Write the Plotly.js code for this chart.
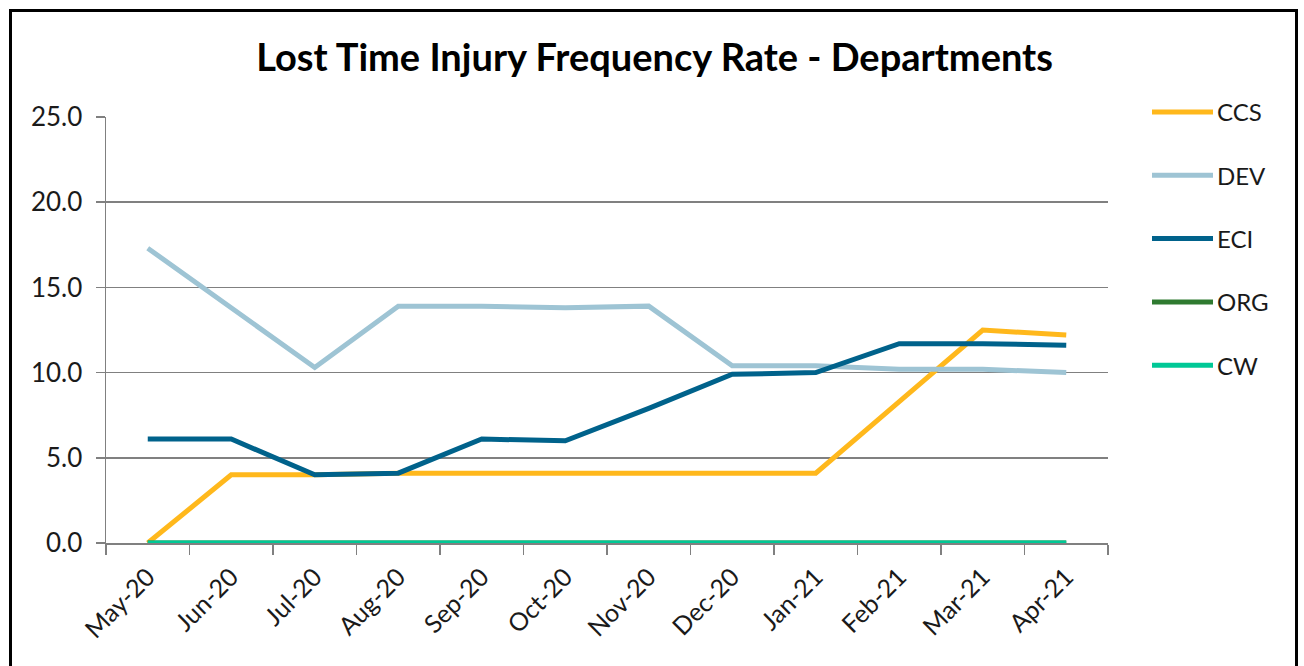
<!DOCTYPE html>
<html>
<head>
<meta charset="utf-8">
<script src="https://cdn.plot.ly/plotly-3.0.1.min.js"></script>
<style>
  body { margin: 0; background: #fff; }
  #chart { width: 1304px; height: 666px; }
  #frame {
    position: absolute; left: 9px; top: 9px; width: 1289px; height: 720px;
    border: 3px solid #000; box-sizing: border-box; pointer-events: none;
  }
</style>
</head>
<body>
<div id="chart"></div>
<div id="frame"></div>
<script>
// Lost Time Injury Frequency Rate by department, May-20 .. Apr-21
var months = ["May-20", "Jun-20", "Jul-20", "Aug-20", "Sep-20", "Oct-20",
              "Nov-20", "Dec-20", "Jan-21", "Feb-21", "Mar-21", "Apr-21"];

var ccs = [0.0, 4.0, 4.0, 4.1, 4.1, 4.1, 4.1, 4.1, 4.1, 8.3, 12.5, 12.2];
var dev = [17.3, 13.8, 10.3, 13.9, 13.9, 13.8, 13.9, 10.4, 10.4, 10.2, 10.2, 10.0];
var eci = [6.1, 6.1, 4.0, 4.1, 6.1, 6.0, 7.9, 9.9, 10.0, 11.7, 11.7, 11.6];
var org = [0, 0, 0, 0, 0, 0, 0, 0, 0, 0, 0, 0];
var cw  = [0, 0, 0, 0, 0, 0, 0, 0, 0, 0, 0, 0];

var names  = ["CCS", "DEV", "ECI", "ORG", "CW"];
var colors = ["#FFB81C", "#9EC4D4", "#00628B", "#2F7A30", "#00C896"];
var series = [ccs, dev, eci, org, cw];

var data = [];
for (var i = 0; i < series.length; i++) {
  data.push({
    x: months,
    y: series[i],
    name: names[i],
    mode: 'lines',
    type: 'scatter',
    line: { color: colors[i], width: 5 },
    showlegend: false
  });
}

// legend drawn by hand so the key lines are as long as in the original
var shapes = [];
var annotations = [];
for (var j = 0; j < names.length; j++) {
  var py = (666 - (112 + j * 63.3) - 123) / 426;
  shapes.push({
    type: 'line', xref: 'paper', yref: 'paper',
    x0: (1152 - 106) / 1002, x1: (1213 - 106) / 1002,
    y0: py, y1: py,
    line: { color: colors[j], width: 5 }
  });
  annotations.push({
    xref: 'paper', yref: 'paper',
    x: (1215 - 106) / 1002, y: py,
    xanchor: 'left', yanchor: 'middle', showarrow: false,
    text: names[j],
    font: { family: 'Lato, sans-serif', size: 24, color: '#1a1a1a' }
  });
}

var layout = {
  width: 1304,
  height: 666,
  margin: { l: 106, r: 196, t: 117, b: 123 },
  paper_bgcolor: '#fff',
  plot_bgcolor: '#fff',
  font: { family: 'Lato, sans-serif', size: 24, color: '#1a1a1a' },
  title: {
    text: 'Lost Time Injury Frequency Rate - Departments',
    font: { family: 'Lato, sans-serif', size: 38, weight: 700, color: '#000' },
    xref: 'container', yref: 'container',
    x: 0.502, y: 1 - 58 / 666, xanchor: 'center', yanchor: 'middle'
  },
  xaxis: {
    type: 'category',
    range: [-0.5, 11.5],
    tickangle: -45,
    tickson: 'boundaries',
    ticks: 'outside',
    ticklen: 10,
    tickcolor: '#808080',
    tickwidth: 1.5,
    ticklabelstandoff: 8,
    showline: true,
    linecolor: '#808080',
    linewidth: 1.5,
    showgrid: false,
    tickfont: { size: 25 }
  },
  yaxis: {
    range: [0, 25],
    dtick: 5,
    tickformat: '.1f',
    ticks: 'outside',
    ticklen: 9,
    tickcolor: '#808080',
    tickwidth: 1.5,
    ticklabelstandoff: 8,
    showline: true,
    linecolor: '#808080',
    linewidth: 1.5,
    gridcolor: '#808080',
    gridwidth: 1.5,
    zeroline: false,
    tickfont: { size: 26 }
  },
  shapes: shapes,
  annotations: annotations,
  showlegend: false
};

Plotly.newPlot('chart', data, layout, { displayModeBar: false, staticPlot: true });
</script>
</body>
</html>
